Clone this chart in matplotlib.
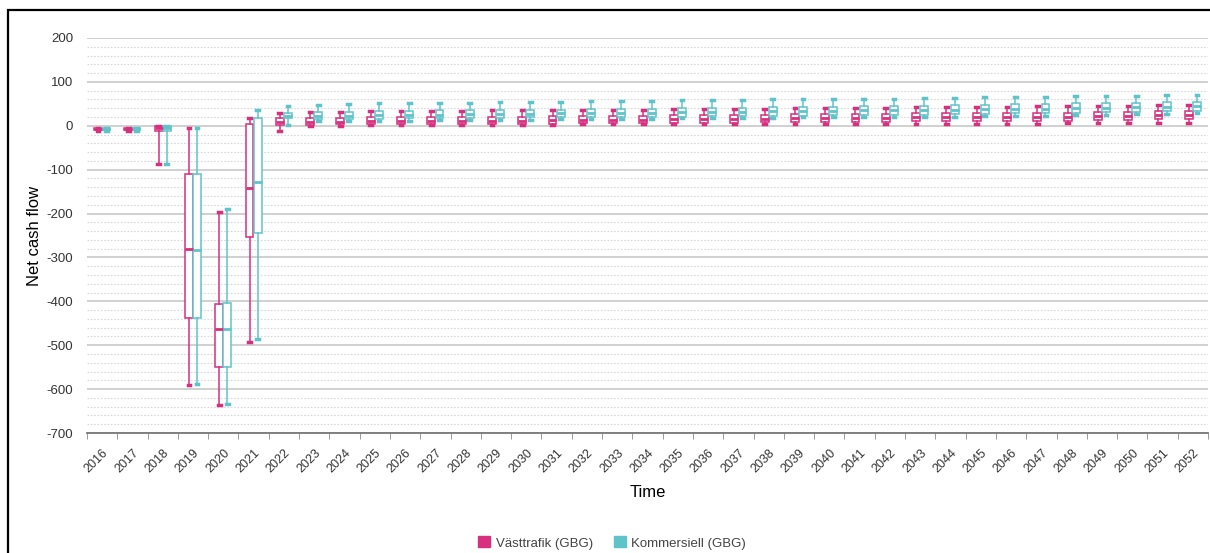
import matplotlib
matplotlib.use("Agg")
from matplotlib import pyplot as plt
from matplotlib.patches import Rectangle, Patch
import numpy as np

plt.rcParams['font.family'] = ['Liberation Sans', 'DejaVu Sans']
plt.rcParams['axes.unicode_minus'] = False

years = list(range(2016, 2053))

# Västtrafik (GBG)
vt_low = [-12, -11, -86, -590, -637, -493, -11, 0, 0,
          1, 1, 1, 2, 2, 2, 2, 3, 3, 3, 3, 3, 4, 4, 4, 4, 4, 4, 5, 5, 5, 5, 5, 6, 6, 6, 7, 7]
vt_q1 = [-10, -9, -12, -437, -549, -254, 2, 2, 3,
         3, 4, 4, 4, 5, 5, 5, 6, 6, 6, 7, 7, 7, 8, 8, 8, 9, 9, 10, 10, 11, 11, 12, 12, 13, 14, 15, 16]
vt_med = [-8, -7, -5, -280, -464, -141, 9, 9, 9,
          10, 10, 11, 11, 12, 12, 13, 13, 14, 14, 15, 15, 16, 16, 17, 17, 18, 18, 19, 19, 20, 20, 21, 21, 22, 23, 24, 25]
vt_q3 = [-6, -5, 0, -111, -405, 4, 17, 18, 18,
         19, 19, 20, 20, 21, 21, 22, 22, 23, 23, 24, 24, 25, 25, 26, 26, 27, 27, 28, 28, 29, 29, 30, 30, 31, 32, 33, 34]
vt_high = [-4, -4, -1, -4, -197, 18, 30, 32, 32,
           33, 33, 34, 34, 35, 35, 36, 36, 37, 37, 38, 38, 39, 39, 40, 40, 41, 41, 42, 42, 43, 43, 44, 44, 45, 46, 47, 48]

# Kommersiell (GBG)
ko_low = [-12, -11, -88, -589, -634, -486, 2, 11, 11,
          12, 12, 13, 13, 14, 14, 15, 15, 16, 16, 17, 17, 18, 18, 19, 19, 20, 20, 21, 21, 22, 22, 23, 24, 25, 26, 27, 28]
ko_q1 = [-10, -9, -12, -437, -550, -245, 17, 16, 15,
         16, 17, 17, 18, 18, 19, 19, 20, 20, 21, 21, 22, 22, 23, 23, 24, 24, 25, 25, 26, 27, 28, 29, 30, 31, 32, 33, 34]
ko_med = [-8, -7, -5, -282, -464, -127, 23, 23, 23,
          24, 25, 25, 26, 27, 27, 28, 29, 29, 30, 31, 31, 32, 33, 33, 34, 35, 35, 36, 37, 38, 39, 39, 40, 41, 42, 43, 44]
ko_q3 = [-6, -5, 0, -109, -403, 18, 30, 32, 32,
         33, 34, 35, 35, 36, 37, 37, 38, 39, 39, 40, 41, 41, 42, 43, 43, 44, 45, 46, 47, 48, 49, 50, 51, 52, 53, 54, 55]
ko_high = [-4, -4, -1, -4, -189, 35, 45, 47, 50,
           51, 52, 52, 53, 54, 54, 55, 56, 56, 57, 58, 58, 59, 60, 60, 61, 62, 62, 63, 64, 65, 65, 66, 67, 67, 68, 69, 70]

series = [
    ("Västtrafik (GBG)", '#d6307f', vt_low, vt_q1, vt_med, vt_q3, vt_high, -0.135),
    ("Kommersiell (GBG)", '#5fc3ca', ko_low, ko_q1, ko_med, ko_q3, ko_high, 0.135),
]

fig = plt.figure(figsize=(12.1, 5.53), dpi=100)
ax = fig.add_axes([87 / 1210, 1 - 433 / 553, 1121 / 1210, 395 / 553])

x = np.arange(len(years))
handles = []
for name, col, lo, q1, med, q3, hi, off in series:
    stats = [dict(whislo=lo[i], q1=q1[i], med=med[i], q3=q3[i], whishi=hi[i], fliers=[])
             for i in range(len(years))]
    ax.bxp(stats, positions=x + off, widths=0.26, showfliers=False, patch_artist=True,
           capwidths=0.09,
           boxprops=dict(facecolor='white', edgecolor=col, linewidth=1.1),
           medianprops=dict(color=col, linewidth=2),
           whiskerprops=dict(color=col, linewidth=1.1),
           capprops=dict(color=col, linewidth=2.5), zorder=3)
    handles.append(Patch(facecolor=col, edgecolor=col, label=name))

ax.set_xlim(-0.5, len(years) - 0.5)
ax.set_ylim(-700, 200)
ax.set_yticks(np.arange(-700, 201, 100))
ax.set_yticks(np.arange(-700, 201, 20), minor=True)
ax.set_xticks(x)
ax.set_xticklabels([str(y) for y in years], rotation=45, ha='right',
                   rotation_mode='anchor', fontsize=9, color='#333333')
ax.set_xticks(np.arange(-0.5, len(years), 1), minor=True)
ax.tick_params(axis='x', which='major', length=0, pad=10)
ax.tick_params(axis='x', which='minor', length=4, color='#888888')
ax.tick_params(axis='y', which='both', length=0, labelsize=9.5, pad=10,
               labelcolor='#333333')

ax.grid(axis='y', which='major', color='#c8c8c8', linewidth=1.2, zorder=0)
ax.grid(axis='y', which='minor', color='#d8d8d8', linewidth=0.8,
        linestyle=(0, (1.5, 1.5)), zorder=0)
for s in ['top', 'right', 'left']:
    ax.spines[s].set_visible(False)
ax.spines['bottom'].set_color('#777777')
ax.spines['bottom'].set_linewidth(1.3)

ax.set_ylabel("Net cash flow", fontsize=12, labelpad=3)
ax.set_xlabel("Time", fontsize=12, labelpad=7)

fig.legend(handles=handles, loc='center', bbox_to_anchor=(0.5 + 7 / 1210, 1 - 543 / 553),
           ncol=2, frameon=False, fontsize=9.5, handlelength=0.9, handleheight=0.9,
           columnspacing=1.6, handletextpad=0.4, labelcolor='#444444')

fig.patches.append(Rectangle((8 / 1210, -0.05), 1.1, 1.05 - 10 / 553, transform=fig.transFigure,
                             fill=False, edgecolor='black', linewidth=1.6))

fig.savefig("out.png", dpi=100)
